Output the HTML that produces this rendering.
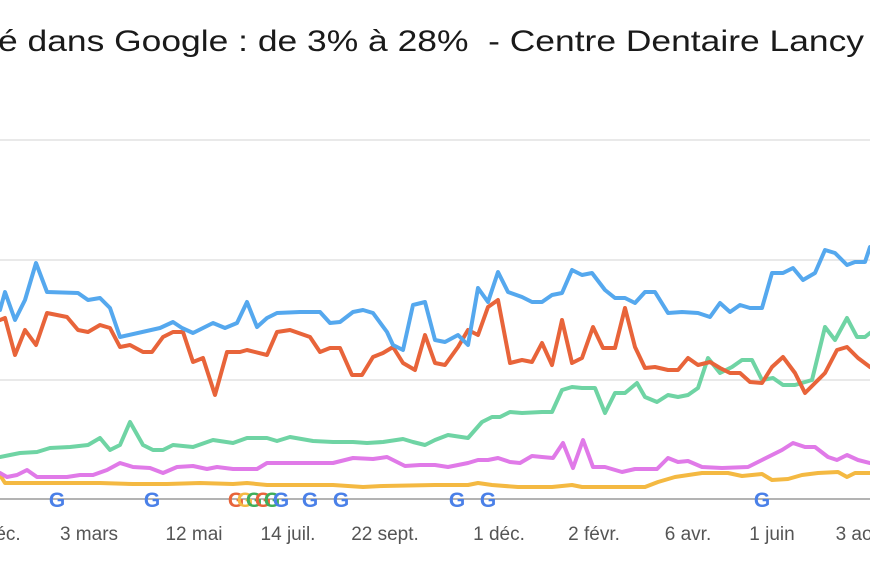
<!DOCTYPE html>
<html><head><meta charset="utf-8"><style>
body{margin:0;background:#fff;width:870px;height:570px;overflow:hidden}
</style></head><body>
<svg width="870" height="570" xmlns="http://www.w3.org/2000/svg" font-family="Liberation Sans, sans-serif">
<text x="-2" y="51" font-size="30" fill="#1a1a1a" textLength="866" lengthAdjust="spacingAndGlyphs" xml:space="preserve">é dans Google : de 3% à 28%  - Centre Dentaire Lancy</text>
<g stroke="#e2e2e2" stroke-width="1.5">
<line x1="0" y1="140" x2="870" y2="140"/><line x1="0" y1="260" x2="870" y2="260"/><line x1="0" y1="380" x2="870" y2="380"/>
</g>
<line x1="0" y1="499" x2="870" y2="499" stroke="#9a9a9a" stroke-width="1.5"/>
<g fill="none" stroke-width="4" stroke-linejoin="round" stroke-linecap="round">
<polyline stroke="#f4b942" points="0,475 5,483 33,483 67,483 100,483 133,484 167,484 200,483 233,484 247,483 267,485 300,485 333,485 363,487 383,486 435,485 468,485 478,483 492,485 518,487 552,487 572,485 582,487 645,487 658,482 675,477 702,473 728,473 742,476 762,474 772,480 788,479 802,475 818,473 838,472 847,477 855,473 870,473"/>
<polyline stroke="#e07ae8" points="0,473 7,477 17,475 27,470 37,477 50,477 67,477 80,475 93,475 107,470 120,463 133,467 150,468 163,473 177,467 193,466 207,469 217,467 233,469 257,469 267,463 293,463 313,463 333,463 353,458 373,459 387,457 405,466 420,465 435,465 448,467 468,463 478,460 488,460 498,458 510,462 520,463 532,456 542,457 553,458 563,443 573,468 583,440 593,467 605,467 622,472 635,469 657,469 668,458 678,462 688,461 702,467 722,468 748,467 762,460 782,450 793,443 805,447 815,447 828,457 837,460 847,455 858,460 870,463"/>
<polyline stroke="#6fd4a4" points="0,457 10,455 20,453 37,452 50,448 70,447 88,445 100,438 110,450 120,445 130,422 143,445 153,450 163,450 173,445 193,447 213,440 233,443 247,438 267,438 277,441 290,437 313,441 333,442 353,442 367,443 383,442 403,439 413,442 425,445 435,440 448,435 468,438 482,422 492,417 500,417 510,412 522,413 542,412 552,412 562,390 572,387 582,388 595,388 605,413 615,393 625,393 637,383 645,397 657,402 668,395 678,397 688,395 698,388 708,358 720,373 732,367 742,360 752,360 762,380 773,378 783,385 795,385 812,380 825,327 835,340 847,318 857,337 865,337 870,333"/>
<polyline stroke="#e8643a" points="0,320 5,318 15,355 25,330 36,345 47,313 67,317 78,330 88,332 100,325 110,328 120,347 130,345 143,352 152,352 163,337 173,332 183,332 193,362 203,358 215,395 227,352 240,352 247,350 267,355 277,332 290,330 310,337 320,352 330,348 340,348 352,375 362,375 373,357 383,353 393,347 403,363 415,370 425,335 435,363 445,365 458,347 468,330 478,335 488,307 498,300 510,363 522,360 532,362 542,343 552,365 562,320 572,363 582,358 593,327 603,348 615,348 625,308 635,347 645,368 655,367 668,370 678,370 688,358 698,365 710,362 720,368 730,373 740,373 750,382 762,383 772,367 783,357 795,373 805,393 815,383 825,373 837,350 847,347 858,358 870,367"/>
<polyline stroke="#55a8ee" points="0,310 5,292 15,320 25,300 36,263 47,292 78,293 88,300 100,298 110,308 120,337 160,328 173,322 182,328 193,333 213,323 225,328 237,323 247,302 257,327 267,318 277,313 300,312 320,312 330,323 340,322 353,312 363,310 373,313 387,332 393,345 403,350 413,305 425,302 435,340 445,342 458,335 468,345 478,288 488,302 498,272 508,292 522,297 532,302 542,302 552,295 562,293 572,270 582,275 592,273 605,290 615,298 625,298 635,303 645,292 655,292 668,313 682,312 698,313 710,317 720,303 730,312 740,305 750,308 762,308 772,273 783,273 793,268 803,280 815,273 825,250 835,253 847,265 855,262 865,262 870,247"/>
</g>
<g font-size="21" font-weight="bold" fill="#4a80e8" text-anchor="middle">
<text x="57" y="507">G</text><text x="152" y="507">G</text>
<text x="236" y="507" fill="#e8643a">G</text><text x="245" y="507" fill="#f4b942">G</text><text x="254" y="507" fill="#3fae5a">G</text><text x="263" y="507" fill="#e8643a">G</text><text x="272" y="507" fill="#3fae5a">G</text><text x="281" y="507">G</text>
<text x="310" y="507">G</text><text x="341" y="507">G</text><text x="457" y="507">G</text><text x="488" y="507">G</text><text x="762" y="507">G</text>
</g>
<g font-size="19" fill="#555" text-anchor="middle">
<text x="8" y="540">éc.</text><text x="89" y="540">3 mars</text><text x="194" y="540">12 mai</text><text x="288" y="540">14 juil.</text><text x="385" y="540">22 sept.</text><text x="499" y="540">1 déc.</text><text x="594" y="540">2 févr.</text><text x="688" y="540">6 avr.</text><text x="772" y="540">1 juin</text><text x="862" y="540">3 août</text>
</g>
</svg>
</body></html>
